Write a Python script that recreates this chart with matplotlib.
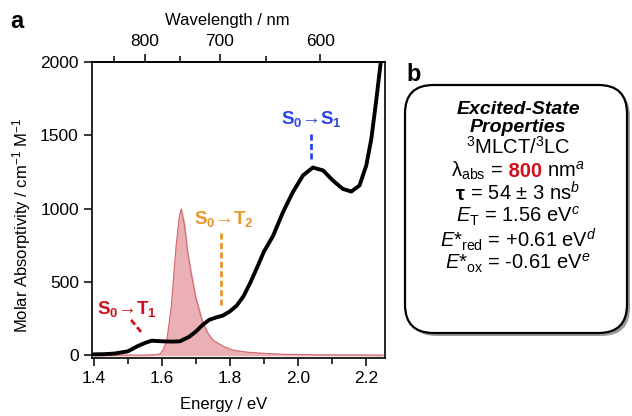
import numpy as np
import matplotlib.pyplot as plt
from matplotlib.patches import FancyBboxPatch

plt.rcParams['font.family'] = ['Liberation Sans', 'DejaVu Sans']
plt.rcParams['mathtext.fontset'] = 'custom'
plt.rcParams['mathtext.rm'] = 'Liberation Sans'
plt.rcParams['mathtext.it'] = 'Liberation Sans:italic'
plt.rcParams['mathtext.bf'] = 'Liberation Sans:bold'

# absorption spectrum (eV, M-1 cm-1)
abs_energy = [1.400, 1.430, 1.460, 1.486, 1.500, 1.530, 1.550, 1.570, 1.600, 1.630,
              1.653, 1.680, 1.700, 1.720, 1.740, 1.760, 1.780, 1.800, 1.820, 1.840,
              1.860, 1.880, 1.900, 1.927, 1.956, 1.985, 2.015, 2.044, 2.074, 2.103,
              2.132, 2.157, 2.181, 2.201, 2.216, 2.231, 2.245]
abs_value = [5, 6, 10, 20, 25, 62, 82, 98, 94, 92,
             94, 124, 160, 206, 241, 257, 270, 298, 337, 401,
             493, 597, 705, 813, 974, 1111, 1226, 1280, 1260, 1191,
             1134, 1116, 1157, 1294, 1478, 1753, 2027]

# emission spectrum (eV, scaled)
em_energy = [1.400, 1.550, 1.580, 1.595, 1.605, 1.615, 1.628, 1.642, 1.652, 1.657,
             1.667, 1.676, 1.686, 1.700, 1.721, 1.735, 1.750, 1.780, 1.809, 1.850,
             1.907, 1.960, 2.050, 2.250]
em_value = [0, 0, 2, 8, 40, 103, 332, 744, 951, 997,
            882, 699, 561, 390, 218, 150, 103, 60, 34, 20,
            11, 5, 2, 0]

W, H = 632, 416
fig = plt.figure(figsize=(6.32, 4.16), dpi=100)
ax = fig.add_axes([92 / W, 1 - 358 / H, 293 / W, 296 / H])

ax.fill_between(em_energy, em_value, color='#eab0b4', zorder=1)
ax.plot(em_energy, em_value, color='#d46a72', lw=0.8, zorder=2)
ax.plot(abs_energy, abs_value, color='black', lw=2.8, zorder=3,
        solid_capstyle='round')

ax.set_xlim(1.395, 2.256)
ax.set_ylim(-20, 2000)
ax.set_xticks([1.4, 1.6, 1.8, 2.0, 2.2])
ax.set_xticks([1.5, 1.7, 1.9, 2.1], minor=True)
ax.set_yticks([0, 500, 1000, 1500, 2000])
ax.tick_params(axis='both', which='major', direction='out', length=6,
               width=1.1, labelsize=12.5)
ax.tick_params(axis='x', which='minor', direction='out', length=4, width=1.1)
for s in ax.spines.values():
    s.set_linewidth(1.2)

nm = lambda x: 1239.84 / np.asarray(x, dtype=float)
sec = ax.secondary_xaxis('top', functions=(nm, nm))
sec.set_xticks([800, 700, 600])
sec.set_xticks([850, 750, 650], minor=True)
sec.tick_params(which='major', direction='out', length=6, width=1.1, labelsize=12.5)
sec.tick_params(which='minor', direction='out', length=4, width=1.1)
sec.spines['top'].set_linewidth(1.2)

# axis titles
fig.text(224 / W, 1 - 404 / H, 'Energy / eV', fontsize=12, ha='center', va='center')
fig.text(227 / W, 1 - 21 / H, 'Wavelength / nm', fontsize=12, ha='center', va='center')
fig.text(22 / W, 1 - 225 / H, 'Molar Absorptivity / cm$^{-1}$ M$^{-1}$', fontsize=12,
         ha='center', va='center', rotation=90)

# transition labels
red = '#d0101c'
orange = '#e8952c'
blue = '#2b45e8'
ax.text(1.499, 282, r'$\mathbf{S_0}$→$\mathbf{T_1}$', color=red, fontsize=13.5,
        ha='center', va='baseline')
ax.plot([1.510, 1.542], [240, 149], color=red, lw=2, ls=(0, (2.2, 1.2)))
ax.text(1.782, 893, r'$\mathbf{S_0}$→$\mathbf{T_2}$', color=orange, fontsize=13.5,
        ha='center', va='baseline')
ax.plot([1.775, 1.775], [836, 344], color=orange, lw=2, ls=(0, (2.2, 1.2)))
ax.text(2.041, 1574, r'$\mathbf{S_0}$→$\mathbf{S_1}$', color=blue, fontsize=13.5,
        ha='center', va='baseline')
ax.plot([2.039, 2.039], [1512, 1336], color=blue, lw=2, ls=(0, (2.2, 1.2)))

# panel labels
fig.text(10 / W, 1 - 28 / H, 'a', fontsize=17, fontweight='bold')
fig.text(406 / W, 1 - 81 / H, 'b', fontsize=17, fontweight='bold')

# properties box
shadow = FancyBboxPatch((408 / W, 1 - 336 / H), 222 / W, 248 / H,
                        boxstyle='round,pad=0,rounding_size=0.045',
                        transform=fig.transFigure, fc='#9a9a9a', ec='none',
                        mutation_aspect=W / H, zorder=0)
box = FancyBboxPatch((405 / W, 1 - 333 / H), 222 / W, 248 / H,
                     boxstyle='round,pad=0,rounding_size=0.045',
                     transform=fig.transFigure, fc='white', ec='black', lw=1.6,
                     mutation_aspect=W / H, zorder=1)
fig.patches.extend([shadow, box])

fs = 14.5
lines = [
    (114.5, [('Excited-State', dict(fontweight='bold', fontstyle='italic', fontsize=14))]),
    (132.5, [('Properties', dict(fontweight='bold', fontstyle='italic', fontsize=14))]),
    (153.3, [(r'$^{3}$MLCT/$^{3}$LC', {})]),
    (177, [(r'λ$_{\mathrm{abs}}$ =', {}), (' 800', dict(color=red, fontweight='bold')),
           (r' nm$^{\mathit{a}}$', {})]),
    (200.5, [('τ', dict(fontweight='bold')), (r' = 54 ± 3 ns$^{\mathit{b}}$', {})]),
    (222, [(r'$\mathit{E}_{\mathrm{T}}$ = 1.56 eV$^{\mathit{c}}$', {})]),
    (247.5, [(r'$\mathit{E}$*$_{\mathrm{red}}$ = +0.61 eV$^{\mathit{d}}$', {})]),
    (269.5, [(r'$\mathit{E}$*$_{\mathrm{ox}}$ = -0.61 eV$^{\mathit{e}}$', {})]),
]
renderer = fig.canvas.get_renderer()
cx = 518
for yb, pieces in lines:
    texts = []
    for s, props in pieces:
        kw = dict(fontsize=fs, va='baseline', ha='left', zorder=3)
        kw.update(props)
        texts.append(fig.text(0, 1 - yb / H, s, **kw))
    widths = [t.get_window_extent(renderer).width for t in texts]
    x = cx - sum(widths) / 2
    for t, w in zip(texts, widths):
        t.set_x(x / W)
        x += w

fig.savefig('out.png', dpi=100)
